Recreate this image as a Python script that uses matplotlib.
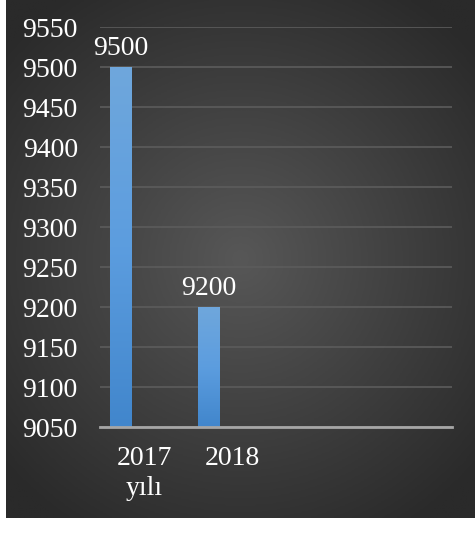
import numpy as np
import matplotlib
matplotlib.use("Agg")
import matplotlib.pyplot as plt
from matplotlib.colors import LinearSegmentedColormap

categories = ["2017\nyılı", "2018", "", ""]
values = [9500, 9200, np.nan, np.nan]
y_ticks = [9050, 9100, 9150, 9200, 9250, 9300, 9350, 9400, 9450, 9500, 9550]

plt.rcParams['font.family'] = ['Liberation Serif', 'DejaVu Serif']

W, H = 475, 533
fig = plt.figure(figsize=(W / 100, H / 100), dpi=100)
fig.patch.set_facecolor("white")

# dark panel with radial gradient
bg = fig.add_axes([6 / W, 15 / H, 1 - 6 / W, 1 - 15 / H])
bg.set_axis_off()
yy, xx = np.mgrid[-1:1:300j, -1:1:300j]
r = np.sqrt((xx * 1.0) ** 2 + (yy * 1.1) ** 2)
bgmap = LinearSegmentedColormap.from_list("bg", ["#575757", "#2a2a2a"])
bg.imshow(np.clip(r / 1.35, 0, 1), cmap=bgmap, aspect="auto", extent=[0, 1, 0, 1])
bg.set_xlim(0, 1)
bg.set_ylim(0, 1)

ax = fig.add_axes([100 / W, 1 - 427 / H, 352 / W, 400 / H])
ax.patch.set_alpha(0)
x = np.arange(len(categories))

barmap = LinearSegmentedColormap.from_list("bar", ["#4186cc", "#5c9ddf", "#6fa7dc"])
grad = np.linspace(0, 1, 256).reshape(-1, 1)
bars = ax.bar(x - 0.267, values, width=0.24, color="#5b9bd5", zorder=3)
for b, v in zip(bars, values):
    if np.isnan(v):
        continue
    im = ax.imshow(grad, cmap=barmap, aspect="auto", origin="lower",
                   extent=[b.get_x(), b.get_x() + b.get_width(), 9050, v], zorder=4)
    im.set_clip_path(b)
    ax.text(b.get_x() + b.get_width() / 2, v + 8, f"{v:.0f}", ha="center", va="bottom",
            color="white", fontsize=20, zorder=5)
ax.set_xlim(-0.5, len(categories) - 0.5)
ax.set_ylim(9050, 9550)

ax.set_yticks(y_ticks)
ax.set_yticklabels([str(t) for t in y_ticks])
ax.set_xticks(x)
ax.set_xticklabels(categories, linespacing=1.25)
ax.tick_params(axis="y", length=0, pad=16, labelsize=20, labelcolor="white")
ax.tick_params(axis="x", length=0, pad=14, labelsize=20, labelcolor="white")

ax.grid(axis="y", color="#5c5c5c", linewidth=1.2, zorder=0)
for s in ["top", "right", "left"]:
    ax.spines[s].set_visible(False)
ax.spines["bottom"].set_color("#a6a6a6")
ax.spines["bottom"].set_linewidth(2)
ax.spines["bottom"].set_zorder(6)

fig.savefig("out.png", dpi=100, facecolor=fig.get_facecolor())
